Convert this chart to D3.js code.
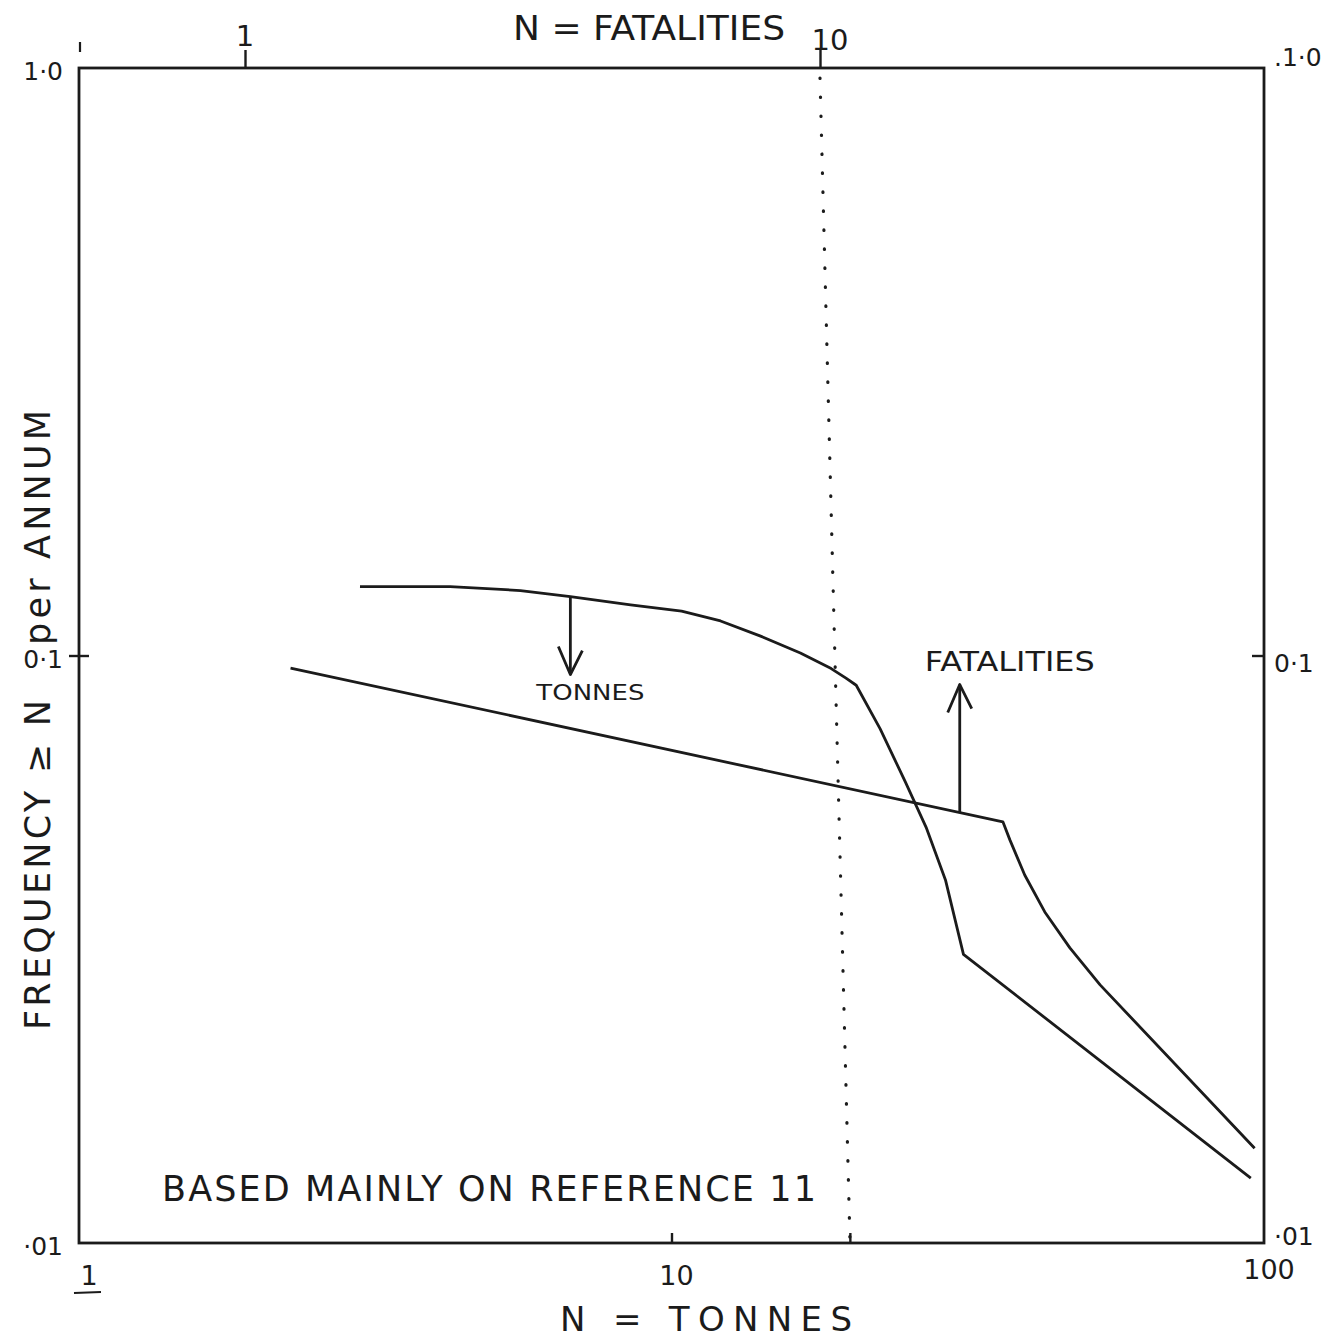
<!DOCTYPE html>
<html lang="en">
<head>
<meta charset="utf-8">
<title>Frequency of events with N or more</title>
<script src="https://d3js.org/d3.v7.min.js"></script>
<style>
  body { margin: 0; background: #fff; }
  text { font-family: "DejaVu Sans", sans-serif; fill: #1b1b1b; }
</style>
</head>
<body>
<script>
// data
var tonnesN    = [2.98, 4.23, 5.56, 6.75, 8.53, 10.4, 12.1, 14.1, 16.5, 18.6, 19.7, 20.5, 22.5, 24.8, 26.9, 29.0, 31.1, 95];
var tonnesFreq = [0.131, 0.131, 0.129, 0.126, 0.122, 0.119, 0.1145, 0.108, 0.101, 0.095, 0.0915, 0.089, 0.075, 0.061, 0.051, 0.0415, 0.031, 0.0129];

var fatalN    = [1.2, 20.8, 21.4, 22.7, 24.6, 27.2, 30.7, 57];
var fatalFreq = [0.0952, 0.0521, 0.0485, 0.0423, 0.0366, 0.0318, 0.0275, 0.0145];

var freqTicks   = [1, 0.1, 0.01];
var freqLabels  = ["1·0", "0·1", "·01"];
var freqLabelsR = [".1·0", "0·1", "·01"];
var tonTicks    = [1, 10, 100];
var tonLabels   = ["1", "10", "100"];
var fatTicks    = [1, 10];
var fatLabels   = ["1", "10"];

var dividerFatal = 10;   // dotted line, top end (fatalities)
var dividerTonnes = 20;  // dotted line, bottom end (tonnes)
var tonArrowAt = 6.75;
var fatArrowAt = 17.5;

var width = 1344, height = 1340;
var padL = 79, padR = 1264, padT = 68, padB = 1243;
var ink = "#1b1b1b";

var svg = d3.select("body").append("svg")
    .attr("width", width)
    .attr("height", height);

// scales
var x = d3.scaleLog().domain([1, 100]).range([padL, padR]);
var xTop = d3.scaleLog().domain([1, 10]).range([245, 820]);
var y = d3.scaleLog().domain([0.01, 1]).range([padB, padT]);

// frame
svg.append("rect")
   .attr("x", padL).attr("y", padT)
   .attr("width", padR - padL).attr("height", padB - padT)
   .style("fill", "none").style("stroke", ink).style("stroke-width", 2.8);

// axes - ticks only, labels drawn by hand below
function styleAxis(g) {
    g.select(".domain").remove();
    g.selectAll("line").style("stroke", ink).style("stroke-width", 2.4);
    g.selectAll("text").remove();
}
svg.append("g").attr("transform", "translate(0," + padB + ")")
   .call(d3.axisTop(x).tickValues([10, dividerTonnes]).tickSize(10))
   .call(styleAxis);
svg.append("g").attr("transform", "translate(0," + padT + ")")
   .call(d3.axisTop(xTop).tickValues(fatTicks).tickSize(18))
   .call(styleAxis);
svg.append("g").attr("transform", "translate(" + padL + ",0)")
   .call(d3.axisLeft(y).tickValues([0.1]).tickSize(10))
   .call(styleAxis);
svg.append("g").attr("transform", "translate(" + padL + ",0)")
   .call(d3.axisRight(y).tickValues([0.1]).tickSize(10))
   .call(styleAxis);
svg.append("g").attr("transform", "translate(" + padR + ",0)")
   .call(d3.axisLeft(y).tickValues([0.1]).tickSize(12))
   .call(styleAxis);
// small mark above the top-left corner
svg.append("line")
   .attr("x1", padL + 1).attr("x2", padL + 1)
   .attr("y1", padT - 26).attr("y2", padT - 16)
   .style("stroke", ink).style("stroke-width", 2.2);

// tick labels
svg.selectAll(".ylab").data(freqTicks).enter().append("text")
   .attr("class", "ylab")
   .attr("x", padL - 16).attr("y", function(d) { return y(d) + 12; })
   .attr("text-anchor", "end").style("font-size", "25px")
   .text(function(d, i) { return freqLabels[i]; });
svg.selectAll(".ylabr").data(freqTicks).enter().append("text")
   .attr("class", "ylabr")
   .attr("x", padR + 10).attr("y", function(d, i) { return y(d) + (i == 0 ? -2 : (i == 2 ? 2 : 16)); })
   .attr("text-anchor", "start").style("font-size", "25px")
   .text(function(d, i) { return freqLabelsR[i]; });
svg.selectAll(".xlab").data(tonTicks).enter().append("text")
   .attr("class", "xlab")
   .attr("x", function(d, i) { return x(d) + (i == 0 ? 10 : 5); })
   .attr("y", function(d, i) { return padB + (i == 2 ? 36 : 42); })
   .attr("text-anchor", "middle").style("font-size", "27px")
   .text(function(d, i) { return tonLabels[i]; });
svg.append("line")
   .attr("x1", padL - 5).attr("x2", padL + 22)
   .attr("y1", padB + 50).attr("y2", padB + 49)
   .style("stroke", ink).style("stroke-width", 2);
svg.selectAll(".tlab").data(fatTicks).enter().append("text")
   .attr("class", "tlab")
   .attr("x", function(d, i) { return xTop(d) + (i == 0 ? 0 : 10); })
   .attr("y", function(d, i) { return i == 0 ? 46 : 50; })
   .attr("text-anchor", "middle").style("font-size", "29px")
   .text(function(d, i) { return fatLabels[i]; });

// dotted divider
svg.append("line")
   .attr("x1", xTop(dividerFatal)).attr("y1", padT + 10)
   .attr("x2", x(dividerTonnes)).attr("y2", padB - 6)
   .style("stroke", ink).style("stroke-width", 3.2)
   .style("stroke-linecap", "round")
   .style("stroke-dasharray", "0.5 18.5");

// curves
var tonnesPts = tonnesN.map(function(d, i) { return [x(d), y(tonnesFreq[i])]; });
var fatalPts = fatalN.map(function(d, i) { return [xTop(d), y(fatalFreq[i])]; });
var line = d3.line();

svg.append("path").attr("d", line(tonnesPts))
   .style("fill", "none").style("stroke", ink).style("stroke-width", 2.8)
   .style("stroke-linejoin", "round");
svg.append("path").attr("d", line(fatalPts))
   .style("fill", "none").style("stroke", ink).style("stroke-width", 2.8)
   .style("stroke-linejoin", "round");

// screen y of a polyline at screen x
function yOn(pts, px) {
    for (var i = 1; i < pts.length; i++) {
        if (px <= pts[i][0]) {
            var t = (px - pts[i-1][0]) / (pts[i][0] - pts[i-1][0]);
            return pts[i-1][1] + t * (pts[i][1] - pts[i-1][1]);
        }
    }
    return pts[pts.length - 1][1];
}

// arrows
function arrow(px, y0, y1) {
    var dir = y1 > y0 ? 1 : -1;
    svg.append("line").attr("x1", px).attr("x2", px).attr("y1", y0).attr("y2", y1)
       .style("stroke", ink).style("stroke-width", 2.8);
    svg.append("path")
       .attr("d", "M" + (px - 12) + "," + (y1 - dir * 28) + "L" + px + "," + y1 + "L" + (px + 12) + "," + (y1 - dir * 24))
       .style("fill", "none").style("stroke", ink).style("stroke-width", 2.8)
       .style("stroke-linejoin", "round");
}
var tx = x(tonArrowAt);
arrow(tx, yOn(tonnesPts, tx), yOn(tonnesPts, tx) + 78);
svg.append("text").attr("x", tx + 20).attr("y", yOn(tonnesPts, tx) + 103)
   .attr("text-anchor", "middle").style("font-size", "21px")
   .attr("textLength", 108).attr("lengthAdjust", "spacingAndGlyphs")
   .text("TONNES");

var fx = xTop(fatArrowAt);
arrow(fx, yOn(fatalPts, fx), yOn(fatalPts, fx) - 128);
svg.append("text").attr("x", fx + 50).attr("y", yOn(fatalPts, fx) - 142)
   .attr("text-anchor", "middle").style("font-size", "27px")
   .attr("textLength", 170).attr("lengthAdjust", "spacingAndGlyphs")
   .text("FATALITIES");

// titles
svg.append("text").attr("x", 513).attr("y", 40)
   .style("font-size", "33px")
   .attr("textLength", 272).attr("lengthAdjust", "spacingAndGlyphs")
   .text("N = FATALITIES");

svg.append("text").attr("x", 560).attr("y", 1331)
   .style("font-size", "34px")
   .attr("textLength", 292).attr("lengthAdjust", "spacing")
   .text("N  =  TONNES");

svg.append("text").attr("x", 162).attr("y", 1201)
   .style("font-size", "35px")
   .attr("textLength", 654).attr("lengthAdjust", "spacing")
   .text("BASED MAINLY ON REFERENCE 11");

// y title in two parts, leaving room for the 0·1 label
svg.append("text")
   .attr("transform", "translate(50,1030) rotate(-90)")
   .style("font-size", "35px")
   .attr("textLength", 330).attr("lengthAdjust", "spacing")
   .text("FREQUENCY ≥ N");
svg.append("text")
   .attr("transform", "translate(50,645) rotate(-90)")
   .style("font-size", "35px")
   .attr("textLength", 235).attr("lengthAdjust", "spacing")
   .text("per ANNUM");
</script>
</body>
</html>
